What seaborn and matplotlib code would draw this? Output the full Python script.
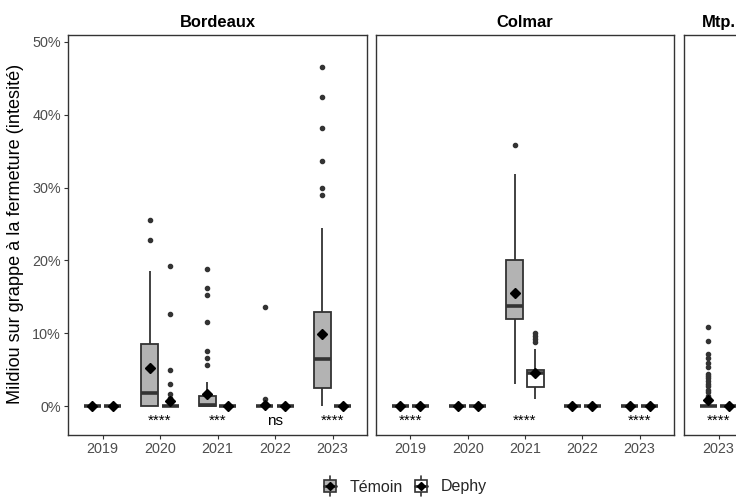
import matplotlib
matplotlib.use("Agg")
import matplotlib.pyplot as plt
from matplotlib.legend_handler import HandlerBase
from matplotlib.patches import Rectangle, Patch
from matplotlib.lines import Line2D
from matplotlib.ticker import PercentFormatter
import seaborn as sns
import pandas as pd

# mildiou intensity on bunches at closure (%), one list of observations per site / year / modality
bdx_2019_temoin = [0.0] * 40
bdx_2019_dephy = [0.0] * 40
bdx_2020_temoin = [0, 0, 0, 0, 0, 0, 0.1, 0.3, 0.6, 1.2, 1.74, 1.9, 2.3, 3.0, 4.8,
                   8.5, 8.6, 8.76, 18.5, 22.8, 25.5]
bdx_2020_dephy = [0.0] * 57 + [0.6, 0.82, 1.14, 1.65, 2.98, 4.95, 12.6, 19.2]
bdx_2021_temoin = ([0.0] * 17 + [0.1] * 15 + [0.18] + [0.3] * 15 + [1.37] + [1.5] * 8
                   + [3.25, 5.7, 6.6, 7.5, 11.6, 15.2, 16.2, 18.8])
bdx_2021_dephy = [0.0] * 40
bdx_2022_temoin = [0.0] * 78 + [1.0, 13.55]
bdx_2022_dephy = [0.0] * 40
bdx_2023_temoin = [0, 0.2, 0.4, 0.5, 0.7, 0.8, 1.0, 1.1, 1.3, 1.4, 1.6, 1.7, 1.9, 2.1, 2.1,
                   2.43, 2.6, 2.9, 3.1, 3.4, 3.7, 3.9, 4.1, 4.3, 4.6, 4.8, 5.1, 5.2, 5.4, 5.7,
                   6.41, 6.8, 7.2, 7.6, 8.0, 8.4, 8.8, 9.2, 9.5, 9.9, 10.3, 10.7, 11.1, 11.6, 12.1,
                   12.96, 13.5, 14.2, 15.0, 15.8, 16.5, 16.7, 17.3, 18.0,
                   24.5, 29.0, 30.0, 33.6, 38.2, 42.4, 46.6]
bdx_2023_dephy = [0.0] * 40

col_2019_temoin = [0.0] * 30
col_2019_dephy = [0.0] * 30
col_2020_temoin = [0.0] * 30
col_2020_dephy = [0.0] * 30
col_2021_temoin = [3.0, 4.5, 6.0, 8.0, 10.0, 11.9, 12.1, 12.5, 12.9, 13.3, 13.7,
                   14.0, 14.5, 15.3, 16.0, 20.0, 21.0, 23.0, 26.0, 31.9, 35.9]
col_2021_dephy = [1.0, 1.1, 1.3, 1.6, 2.0, 2.65, 2.9, 3.2, 3.4, 3.9, 4.49,
                  4.5, 4.5, 4.6, 4.6, 4.99, 7.83, 8.8, 9.2, 9.6, 10.0]
col_2022_temoin = [0.0] * 30
col_2022_dephy = [0.0] * 30
col_2023_temoin = [0.0] * 30
col_2023_dephy = [0.0] * 30

mtp_2023_temoin = [0.0] * 78 + [0.7, 1.1, 1.4, 1.9, 2.2, 2.7, 3.0, 3.5, 3.8, 4.1, 4.4,
                                5.3, 5.9, 6.6, 7.1, 8.9, 10.9]
mtp_2023_dephy = [0.0] * 40

years_bdx = ["2019", "2020", "2021", "2022", "2023"]
years_col = ["2019", "2020", "2021", "2022", "2023"]
years_mtp = ["2023"]
types = ["Témoin", "Dephy"]

sig_bdx = {"2020": "****", "2021": "***", "2022": "ns", "2023": "****"}
sig_col = {"2019": "****", "2021": "****", "2023": "****"}
sig_mtp = {"2023": "****"}

groups = {
    ("Bordeaux", "2019", "Témoin"): bdx_2019_temoin, ("Bordeaux", "2019", "Dephy"): bdx_2019_dephy,
    ("Bordeaux", "2020", "Témoin"): bdx_2020_temoin, ("Bordeaux", "2020", "Dephy"): bdx_2020_dephy,
    ("Bordeaux", "2021", "Témoin"): bdx_2021_temoin, ("Bordeaux", "2021", "Dephy"): bdx_2021_dephy,
    ("Bordeaux", "2022", "Témoin"): bdx_2022_temoin, ("Bordeaux", "2022", "Dephy"): bdx_2022_dephy,
    ("Bordeaux", "2023", "Témoin"): bdx_2023_temoin, ("Bordeaux", "2023", "Dephy"): bdx_2023_dephy,
    ("Colmar", "2019", "Témoin"): col_2019_temoin, ("Colmar", "2019", "Dephy"): col_2019_dephy,
    ("Colmar", "2020", "Témoin"): col_2020_temoin, ("Colmar", "2020", "Dephy"): col_2020_dephy,
    ("Colmar", "2021", "Témoin"): col_2021_temoin, ("Colmar", "2021", "Dephy"): col_2021_dephy,
    ("Colmar", "2022", "Témoin"): col_2022_temoin, ("Colmar", "2022", "Dephy"): col_2022_dephy,
    ("Colmar", "2023", "Témoin"): col_2023_temoin, ("Colmar", "2023", "Dephy"): col_2023_dephy,
    ("Mtp.", "2023", "Témoin"): mtp_2023_temoin, ("Mtp.", "2023", "Dephy"): mtp_2023_dephy,
}

df = pd.DataFrame(
    [(site, year, kind, v) for (site, year, kind), vals in groups.items() for v in vals],
    columns=["site", "year", "type", "value"],
)

palette = {"Témoin": "#B3B3B3", "Dephy": "white"}
edge = "#333333"

sns.set_theme(style="white")
plt.rcParams["font.family"] = ["Liberation Sans", "DejaVu Sans"]

W, H = 736, 499
fig = plt.figure(figsize=(W / 100, H / 100), dpi=100)

# panel extents in pixels (left, right); last facet runs past the right edge
panels = [
    ("Bordeaux", years_bdx, sig_bdx, 68, 367),
    ("Colmar", years_col, sig_col, 376, 674),
    ("Mtp.", years_mtp, sig_mtp, 684, 753),
]
top, bottom = 35, 435

for i, (site, years, sig, left, right) in enumerate(panels):
    ax = fig.add_axes([left / W, 1 - bottom / H, (right - left) / W, (bottom - top) / H])
    sub = df[df["site"] == site]
    sns.boxplot(
        data=sub, x="year", y="value", hue="type", order=years, hue_order=types,
        palette=palette, width=0.7, gap=0.15, linecolor=edge, linewidth=1.3,
        showcaps=False, fliersize=3,
        flierprops={"marker": "o", "markerfacecolor": edge, "markeredgecolor": edge},
        medianprops={"linewidth": 2.6},
        showmeans=True,
        meanprops={"marker": "D", "markerfacecolor": "black", "markeredgecolor": "black",
                   "markersize": 5},
        legend=False, ax=ax,
    )
    for j, year in enumerate(years):
        if year in sig:
            ax.text(j, -2.05, sig[year], ha="center", va="center", fontsize=11, color="black")

    ax.set_xlim(-0.6, len(years) - 0.4)
    ax.set_ylim(-3.98, 50.96)
    ax.set_yticks([0, 10, 20, 30, 40, 50])
    ax.yaxis.set_major_formatter(PercentFormatter(xmax=100, decimals=0))
    ax.set_xlabel("")
    ax.set_ylabel("")
    for sp in ax.spines.values():
        sp.set_visible(True)
        sp.set_color(edge)
        sp.set_linewidth(1.0)
    ax.tick_params(axis="both", length=3, width=0.8, color=edge, labelcolor="#4D4D4D",
                   labelsize=10.4, pad=2, bottom=True, left=True)
    if i > 0:
        ax.tick_params(axis="y", left=False, labelleft=False)
    ax.set_title(site, fontweight="bold", fontsize=11.9, pad=6, color="black")

fig.text(16 / W, 1 - 234 / H, "Mildiou sur grappe à la fermeture (intesité)",
         rotation=90, ha="center", va="center", fontsize=13.1, color="black")


class BoxKey(HandlerBase):
    def create_artists(self, legend, orig_handle, xdescent, ydescent, width, height,
                       fontsize, trans):
        x0, y0 = -xdescent, -ydescent
        cx, cy = x0 + width / 2, y0 + height / 2
        whisk = Line2D([cx, cx], [cy - height * 0.85, cy + height * 0.85], color=edge,
                       lw=1.2, transform=trans)
        box = Rectangle((x0 + width * 0.05, cy - height * 0.5), width * 0.9, height,
                        facecolor=orig_handle.get_facecolor(), edgecolor=edge, lw=1.2,
                        transform=trans)
        med = Line2D([x0 + width * 0.05, x0 + width * 0.95], [cy, cy], color=edge, lw=2.0,
                     transform=trans)
        mean = Line2D([cx], [cy], marker="D", color="black", markersize=4, lw=0,
                      transform=trans)
        return [whisk, box, med, mean]


handles = [Patch(facecolor=palette[t]) for t in types]
fig.legend(handles, types, handler_map={Patch: BoxKey()}, loc="center",
           bbox_to_anchor=(405 / W, 12 / H), ncol=2, frameon=False, fontsize=11.5,
           handlelength=0.85, handleheight=0.75, handletextpad=0.8, columnspacing=0.7)

fig.savefig("out.png", dpi=100)
